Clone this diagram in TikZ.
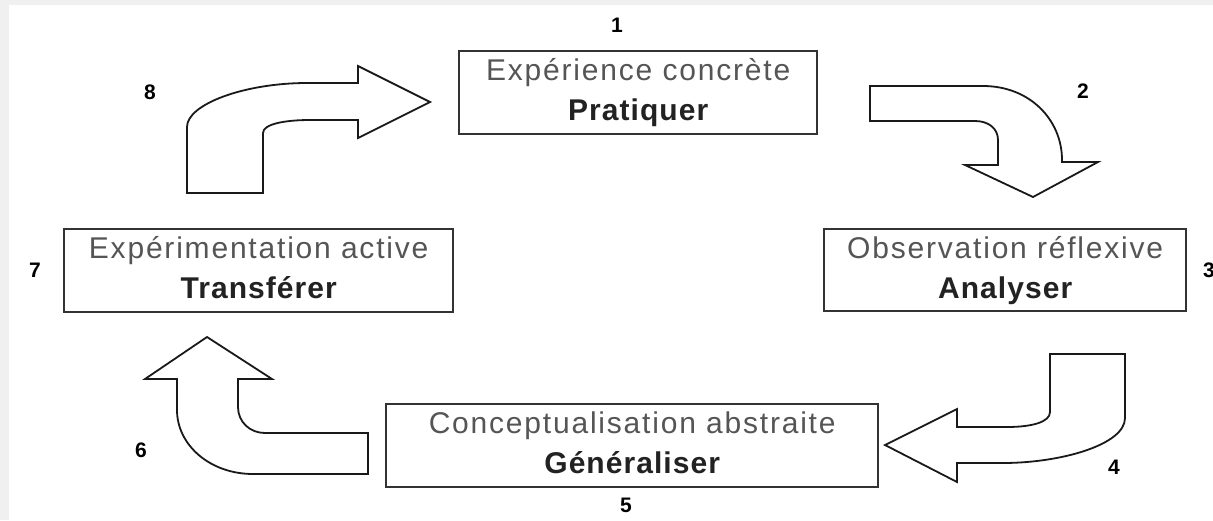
\documentclass[tikz,border=0pt]{standalone}
\usepackage{fontspec}
\setmainfont{Liberation Sans}
\newfontfamily\lsfont[LetterSpace=6]{Liberation Sans}
\newfontfamily\lsbold[LetterSpace=3.5]{Liberation Sans Bold}
\definecolor{bggray}{HTML}{F0F0F0}
\definecolor{txtgray}{HTML}{555555}
\definecolor{bldgray}{HTML}{222222}
\definecolor{edgegray}{HTML}{333333}
\tikzset{
  stagebox/.style={draw=edgegray, line width=2.4pt, fill=white, inner sep=0pt, anchor=north west},
  titletext/.style={font=\lsfont\fontsize{30}{36}\selectfont, text=txtgray, anchor=base, inner sep=0pt},
  verbtext/.style={font=\lsbold\fontsize{30}{36}\selectfont, text=bldgray, anchor=base, inner sep=0pt},
  numlabel/.style={font=\fontsize{21}{21}\selectfont\bfseries, text=black, inner sep=0pt},
  bigarrow/.style={draw=black!90, line width=1.8pt, fill=white, line join=miter}
}
\begin{document}
\begin{tikzpicture}[x=1pt,y=-1pt]
\useasboundingbox (0,0) rectangle (1213,520);
\fill[bggray] (0,0) rectangle (1213,520);
\fill[white] (9,5) rectangle (1213,520);

% stage boxes
\node[stagebox, minimum width=358pt, minimum height=83pt] (b1) at (458,50) {};
\node[stagebox, minimum width=362pt, minimum height=82pt] (b3) at (823,228) {};
\node[stagebox, minimum width=492pt, minimum height=83pt] (b5) at (385,403) {};
\node[stagebox, minimum width=389pt, minimum height=83pt] (b7) at (63,228) {};

\node[titletext] (t1) at ([yshift=-30pt]b1.north) {Expérience concrète};
\node[verbtext]  (v1) at ([yshift=-70pt]b1.north) {Pratiquer};
\node[titletext] (t3) at ([yshift=-30pt]b3.north) {Observation réflexive};
\node[verbtext]  (v3) at ([yshift=-70pt]b3.north) {Analyser};
\node[titletext] (t5) at ([yshift=-30pt]b5.north) {Conceptualisation abstraite};
\node[verbtext]  (v5) at ([yshift=-70pt]b5.north) {Généraliser};
\node[titletext] (t7) at ([yshift=-30pt]b7.north) {Expérimentation active};
\node[verbtext]  (v7) at ([yshift=-70pt]b7.north) {Transférer};

% numbers
\node[numlabel] (n1) at (617,25) {1};
\node[numlabel] (n2) at (1083,91) {2};
\node[numlabel] (n3) at (1209,270) {3};
\node[numlabel] (n4) at (1114,467) {4};
\node[numlabel] (n5) at (626,505) {5};
\node[numlabel] (n6) at (141,450) {6};
\node[numlabel] (n7) at (35,270) {7};
\node[numlabel] (n8) at (150,92) {8};

% arrow 8 (from box 7 up to box 1)
\draw[bigarrow] (187,193) -- (263,193) -- (263,133)
  .. controls (263,124) and (285,120) .. (310,120)
  -- (358,120) -- (358,138) -- (430,102) -- (358,66) -- (358,83)
  -- (307,83) .. controls (245,83) and (187,104) .. (187,127) -- cycle;

% arrow 2 (from box 1 down to box 3)
\draw[bigarrow] (870,86) -- (983,86)
  .. controls (1030,86) and (1062,120) .. (1062,160)
  -- (1062,162) -- (1098,162) -- (1033,197) -- (965,165) -- (998,165)
  -- (998,140) .. controls (998,128) and (988,121) .. (975,121)
  -- (870,121) -- cycle;

% arrow 4 (from box 3 down to box 5)
\draw[bigarrow] (1050,354) -- (1125,354) -- (1125,418)
  .. controls (1125,445) and (1060,463) .. (1003,463)
  -- (957,463) -- (957,482) -- (885,445) -- (957,409) -- (957,427)
  -- (1007,427) .. controls (1032,427) and (1050,422) .. (1050,412) -- cycle;

% arrow 6 (from box 5 up to box 7)
\draw[bigarrow] (368,433) -- (368,474) -- (253,474)
  .. controls (210,474) and (177,445) .. (177,410)
  -- (177,379) -- (145,379) -- (207,337) -- (272,379) -- (238,379)
  -- (238,407) .. controls (238,422) and (250,433) .. (265,433) -- cycle;
\end{tikzpicture}
\end{document}
